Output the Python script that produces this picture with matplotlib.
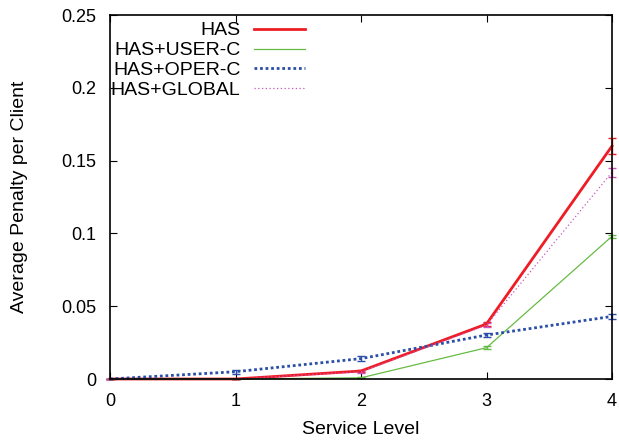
import numpy as np
import matplotlib.pyplot as plt
from matplotlib.lines import Line2D

plt.rcParams['font.family'] = ['Liberation Sans', 'DejaVu Sans']

levels = [0, 1, 2, 3, 4]
has = [0.0, 0.0, 0.0055, 0.0378, 0.160]
has_err = [0.0, 0.0, 0.0006, 0.0015, 0.0055]
user_c = [0.0, 0.0, 0.0008, 0.0215, 0.098]
user_c_err = [0.0, 0.0, 0.0004, 0.001, 0.001]
oper_c = [0.0, 0.0050, 0.0140, 0.0302, 0.0430]
oper_c_err = [0.0, 0.0015, 0.0018, 0.0015, 0.0015]
global_ = [0.0, 0.0, 0.0050, 0.0370, 0.142]
global_err = [0.0, 0.0, 0.0008, 0.0015, 0.003]

names = ['HAS', 'HAS+USER-C', 'HAS+OPER-C', 'HAS+GLOBAL']
colors = ['#ee1c25', '#66bb44', '#2b4fa8', '#cc55bb']
widths = [2, 0.9, 2, 0.9]
styles = ['-', '-', (0, (1, 1)), (0, (1, 2))]

fig = plt.figure(figsize=(6.19, 4.43), dpi=100)
ax = fig.add_axes([110 / 619, 1 - 379 / 443, 502 / 619, 364 / 443])

series = [(has, has_err), (user_c, user_c_err), (oper_c, oper_c_err), (global_, global_err)]
for (vals, err), c, w, ls in zip(series, colors, widths, styles):
    ax.errorbar(levels, vals, yerr=err, color=c, lw=w, ls=ls, capsize=3, elinewidth=1, clip_on=False)

ax.set_xlim(0, 4)
ax.set_ylim(0, 0.25)
ax.set_xticks([0, 1, 2, 3, 4])
ax.set_yticks([0, 0.05, 0.1, 0.15, 0.2, 0.25])
ax.set_yticklabels(['0', '0.05', '0.1', '0.15', '0.2', '0.25'])
ax.tick_params(direction='in', top=True, right=True, labelsize=13, length=5)
ax.tick_params(axis='y', pad=10)
ax.tick_params(axis='x', pad=10)
for s in ax.spines.values():
    s.set_linewidth(1.2)

ax.set_xlabel('Service Level', fontsize=14, labelpad=8)
ax.set_ylabel('Average Penalty per Client', fontsize=14, labelpad=24)

handles = [Line2D([], [], color=c, lw=w, ls=ls) for c, w, ls in zip(colors, widths, styles)]
leg = ax.legend(handles, names, loc='upper left', bbox_to_anchor=(-0.012, 1.0), frameon=False, fontsize=14,
                markerfirst=False, handlelength=2.6, handletextpad=0.7, labelspacing=0.12,
                borderaxespad=0.0, borderpad=0.35)
leg._legend_box.align = 'right'
for t in leg.get_texts():
    t.set_ha('right')

fig.savefig('out.png', dpi=100)
